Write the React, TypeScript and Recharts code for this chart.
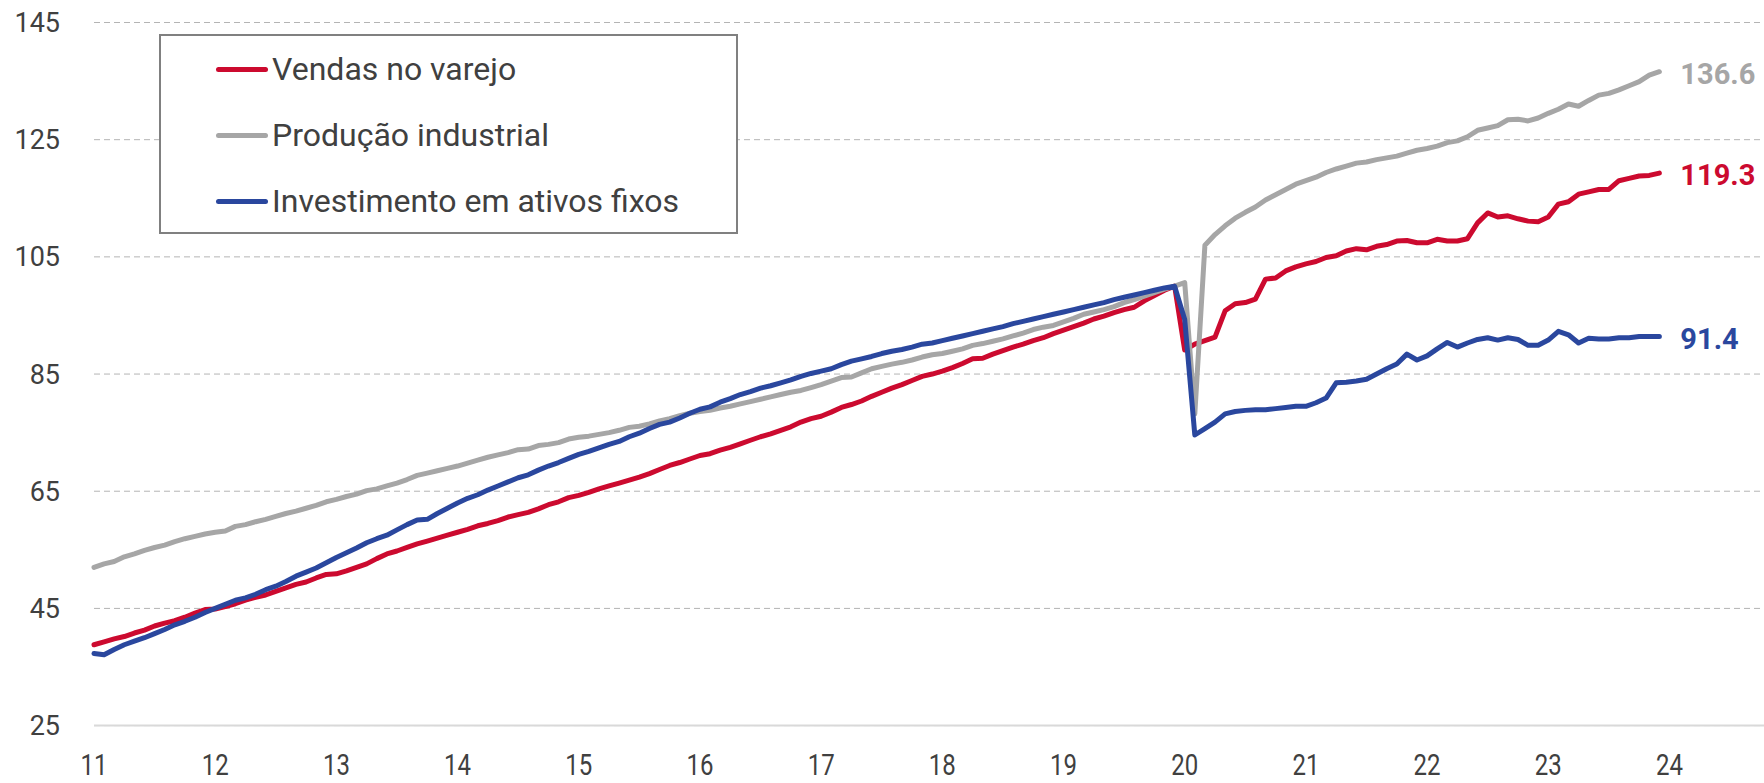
import React from 'react';
import { LineChart, Line, XAxis, YAxis, CartesianGrid, Legend, LabelList } from 'recharts';

// Monthly index values, Jan 2011 – Dec 2023 (Dec 2019 = 100)
const START_YEAR = 2011;

const retailSales = [
  38.8, 39.3, 39.8, 40.2, 40.8, 41.3, 42.0, 42.5, 42.9, 43.5, 44.2, 44.8,
  44.9, 45.3, 45.8, 46.4, 46.9, 47.3, 47.9, 48.5, 49.1, 49.5, 50.2, 50.8,
  50.9, 51.4, 52.0, 52.6, 53.5, 54.3, 54.8, 55.4, 56.0, 56.5, 57.0, 57.5,
  58.0, 58.5, 59.1, 59.5, 60.0, 60.6, 61.0, 61.4, 62.0, 62.7, 63.2, 63.9,
  64.3, 64.8, 65.4, 65.9, 66.4, 66.9, 67.4, 68.0, 68.7, 69.4, 69.9, 70.5,
  71.1, 71.4, 72.0, 72.5, 73.1, 73.7, 74.3, 74.8, 75.4, 76.0, 76.8, 77.4,
  77.8, 78.5, 79.3, 79.8, 80.4, 81.2, 81.9, 82.6, 83.2, 83.9, 84.6, 85.0,
  85.5, 86.1, 86.8, 87.6, 87.7, 88.4, 89.0, 89.6, 90.1, 90.7, 91.2, 91.9,
  92.5, 93.1, 93.7, 94.4, 94.9, 95.5, 96.0, 96.4, 97.5, 98.4, 99.3, 100.0,
  89.1, 90.1, 90.7, 91.3, 95.8, 97.0, 97.2, 97.8, 101.2, 101.4, 102.6, 103.3,
  103.8, 104.2, 104.9, 105.2, 106.0, 106.4, 106.2, 106.8, 107.1, 107.7, 107.8, 107.4,
  107.4, 108.0, 107.7, 107.7, 108.1, 110.8, 112.5, 111.8, 112.0, 111.5, 111.1, 111.0,
  111.8, 114.0, 114.4, 115.7, 116.1, 116.5, 116.5, 118.0, 118.4, 118.8, 118.9, 119.3,
];

const industrialOutput = [
  52.0, 52.6, 53.0, 53.8, 54.3, 54.9, 55.4, 55.8, 56.4, 56.9, 57.3, 57.7,
  58.0, 58.2, 59.0, 59.3, 59.8, 60.2, 60.7, 61.2, 61.6, 62.1, 62.6, 63.2,
  63.6, 64.1, 64.5, 65.1, 65.4, 65.9, 66.4, 67.0, 67.7, 68.1, 68.5, 68.9,
  69.3, 69.8, 70.3, 70.8, 71.2, 71.6, 72.1, 72.2, 72.8, 73.0, 73.3, 73.9,
  74.2, 74.4, 74.7, 75.0, 75.4, 75.9, 76.1, 76.5, 77.0, 77.4, 77.9, 78.3,
  78.6, 78.8, 79.2, 79.5, 79.9, 80.3, 80.7, 81.1, 81.5, 81.9, 82.2, 82.7,
  83.2, 83.8, 84.4, 84.5, 85.2, 85.9, 86.3, 86.7, 87.0, 87.4, 87.9, 88.3,
  88.5, 88.9, 89.3, 89.9, 90.2, 90.6, 91.0, 91.5, 92.0, 92.6, 93.0, 93.3,
  93.9, 94.5, 95.2, 95.6, 96.0, 96.5, 97.2, 97.7, 98.3, 98.9, 99.5, 100.0,
  100.6, 78.2, 107.0, 108.8, 110.3, 111.6, 112.6, 113.5, 114.7, 115.6, 116.5, 117.4,
  118.0, 118.6, 119.4, 120.0, 120.5, 121.0, 121.2, 121.6, 121.9, 122.2, 122.7, 123.2,
  123.5, 123.9, 124.5, 124.8, 125.5, 126.6, 127.0, 127.4, 128.4, 128.5, 128.2, 128.7,
  129.5, 130.2, 131.1, 130.7, 131.7, 132.6, 132.9, 133.5, 134.2, 134.9, 136.0, 136.6,
];

const fixedInvestment = [
  37.3, 37.1, 38.0, 38.8, 39.4, 40.0, 40.7, 41.4, 42.2, 42.8, 43.5, 44.3,
  45.0, 45.7, 46.4, 46.8, 47.4, 48.2, 48.8, 49.6, 50.5, 51.2, 51.9, 52.8,
  53.7, 54.5, 55.3, 56.2, 56.9, 57.5, 58.4, 59.3, 60.1, 60.2, 61.2, 62.1,
  63.0, 63.8, 64.4, 65.2, 65.9, 66.6, 67.3, 67.8, 68.6, 69.3, 69.9, 70.6,
  71.3, 71.8, 72.4, 73.0, 73.5, 74.3, 74.9, 75.7, 76.4, 76.8, 77.5, 78.3,
  79.0, 79.4, 80.2, 80.8, 81.5, 82.0, 82.6, 83.0, 83.5, 84.0, 84.6, 85.1,
  85.5, 85.9, 86.6, 87.2, 87.6, 88.0, 88.5, 88.9, 89.2, 89.6, 90.1, 90.3,
  90.7, 91.1, 91.5, 91.9, 92.3, 92.7, 93.1, 93.6, 94.0, 94.4, 94.8, 95.2,
  95.6, 96.0, 96.4, 96.8, 97.2, 97.7, 98.1, 98.5, 98.9, 99.3, 99.7, 100.0,
  94.3, 74.6, 75.7, 76.8, 78.2, 78.6, 78.8, 78.9, 78.9, 79.1, 79.3, 79.5,
  79.5, 80.1, 80.9, 83.5, 83.6, 83.8, 84.1, 85.0, 85.9, 86.7, 88.4, 87.4,
  88.1, 89.3, 90.4, 89.6, 90.3, 90.9, 91.2, 90.8, 91.2, 90.9, 89.9, 89.9,
  90.8, 92.3, 91.7, 90.3, 91.1, 91.0, 91.0, 91.2, 91.2, 91.4, 91.4, 91.4,
];

const yearTicks = [2011, 2012, 2013, 2014, 2015, 2016, 2017, 2018, 2019, 2020, 2021, 2022, 2023, 2024];
const valueTicks = [25, 45, 65, 85, 105, 125, 145];

const seriesInfo = [
  { key: 'retail', name: 'Vendas no varejo', color: '#CC0A2F' },
  { key: 'industry', name: 'Produção industrial', color: '#A6A6A6' },
  { key: 'investment', name: 'Investimento em ativos fixos', color: '#2A479E' },
];

const data = retailSales.map((v, i) => ({
  t: START_YEAR + i / 12,
  retail: v,
  industry: industrialOutput[i],
  investment: fixedInvestment[i],
}));

const LAST = data.length - 1;
const FONT = 'Roboto, "Noto Sans", sans-serif';
const TEXT = '#404040';

const YearTick = (props: any) => {
  const { x, y, payload } = props;
  return (
    <g transform={`translate(${x},${y})`}>
      <text
        transform="scale(0.8,1)"
        textAnchor="middle"
        dy="0.72em"
        fill={TEXT}
        fontSize={30}
        fontFamily={FONT}
      >
        {String(payload.value).slice(2)}
      </text>
    </g>
  );
};

const endLabel = (color: string) => (props: any) => {
  const { x, y, index, value } = props;
  if (index !== LAST) return null;
  return (
    <text
      x={x + 21}
      y={y + 2}
      dy="0.355em"
      fill={color}
      fontSize={29}
      fontWeight={700}
      fontFamily={FONT}
    >
      {Number(value).toFixed(1)}
    </text>
  );
};

// Legend rows follow the series order (red, gray, blue)
const LegendBox = () => (
  <div
    style={{
      position: 'relative',
      width: 579,
      height: 200,
      boxSizing: 'border-box',
      border: '2px solid #808080',
      background: '#fff',
      fontFamily: FONT,
    }}
  >
    {seriesInfo.map((s, i) => (
      <div
        key={s.key}
        style={{
          position: 'absolute',
          left: 55,
          top: 13 + i * 66,
          height: 40,
          display: 'flex',
          alignItems: 'center',
          whiteSpace: 'nowrap',
        }}
      >
        <span
          style={{
            display: 'inline-block',
            width: 52,
            height: 5,
            borderRadius: 3,
            background: s.color,
            marginRight: 4,
          }}
        />
        <span style={{ fontSize: 32, lineHeight: '40px', color: TEXT }}>{s.name}</span>
      </div>
    ))}
  </div>
);

export default function App() {
  return (
    <div style={{ position: 'absolute', left: 0, top: 0, width: 1764, height: 783, background: '#fff' }}>
      <LineChart
        width={1764}
        height={783}
        data={data}
        margin={{ top: 22.5, right: 0, bottom: 0, left: 0 }}
      >
        <CartesianGrid vertical={false} stroke="#b4b4b4" strokeDasharray="6 4" />
        <XAxis
          dataKey="t"
          type="number"
          domain={[2011, 2024.78]}
          ticks={yearTicks}
          interval={0}
          height={57.4}
          axisLine={{ stroke: '#d9d9d9', strokeWidth: 2 }}
          tickLine={false}
          tickSize={0}
          tickMargin={28}
          tick={<YearTick />}
        />
        <YAxis
          type="number"
          domain={[25, 145]}
          ticks={valueTicks}
          interval={0}
          width={94}
          axisLine={false}
          tickLine={false}
          tickSize={0}
          tickMargin={34}
          tick={{ fontSize: 27, fill: TEXT, fontFamily: FONT }}
        />
        <Legend
          layout="vertical"
          align="center"
          verticalAlign="middle"
          wrapperStyle={{ left: 159, top: 34, width: 579, height: 200 }}
          content={<LegendBox />}
        />
        {seriesInfo.map((s) => (
          <Line
            key={s.key}
            type="linear"
            dataKey={s.key}
            name={s.name}
            stroke={s.color}
            strokeWidth={5}
            strokeLinejoin="round"
            strokeLinecap="round"
            dot={false}
            activeDot={false}
            isAnimationActive={false}
          >
            <LabelList dataKey={s.key} content={endLabel(s.color)} />
          </Line>
        ))}
      </LineChart>
    </div>
  );
}
